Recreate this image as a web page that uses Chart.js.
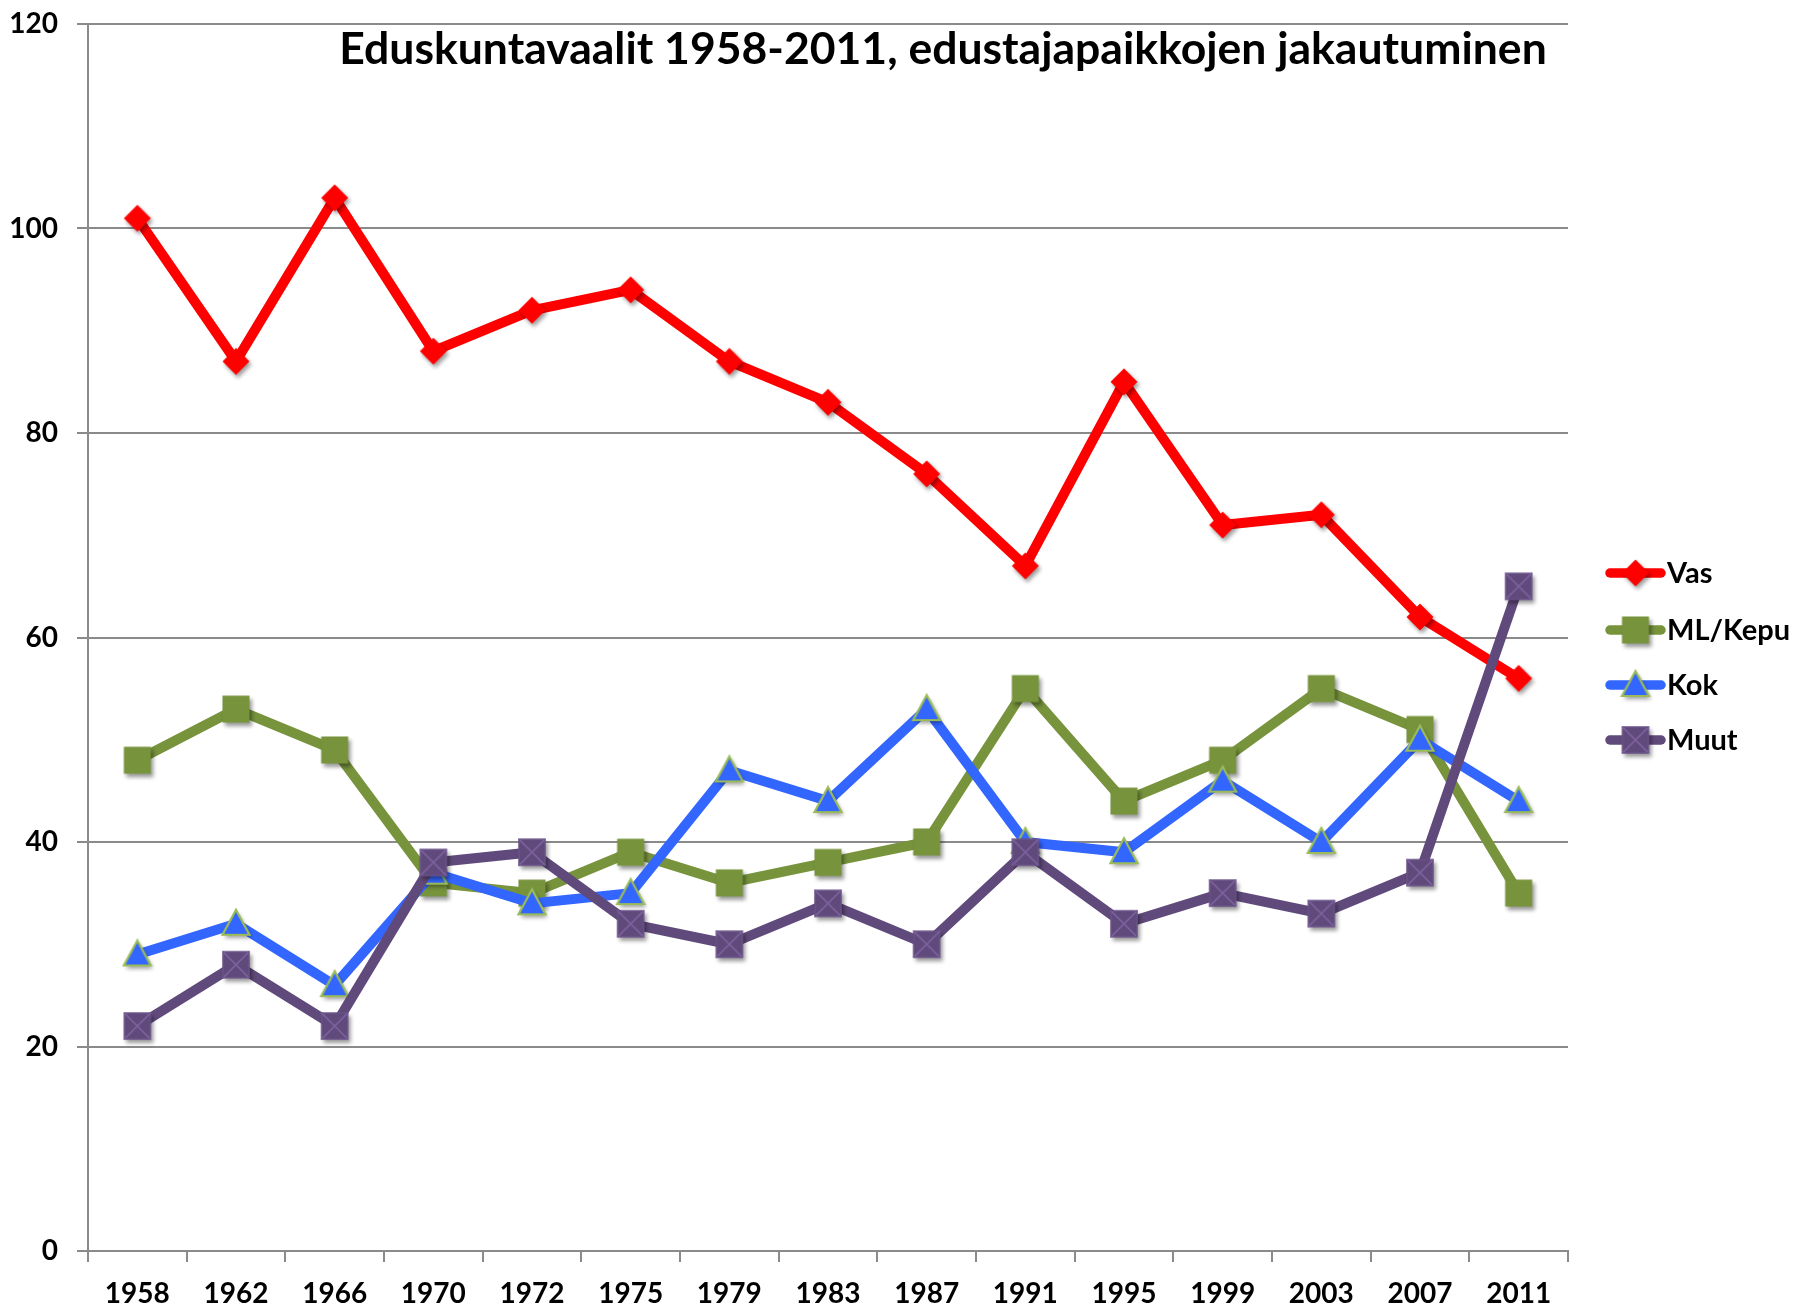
<!DOCTYPE html>
<html>
<head>
<meta charset="utf-8">
<script src="https://cdn.jsdelivr.net/npm/chart.js@4.4.1/dist/chart.umd.min.js"></script>
<style>
  html, body { margin: 0; padding: 0; background: #ffffff; }
  #wrap { position: relative; width: 1812px; height: 1312px; }
  canvas { display: block; }
</style>
</head>
<body>
<div id="wrap"><canvas id="c" width="1812" height="1312"></canvas></div>
<script>
// ---- Data ----
const years = ['1958','1962','1966','1970','1972','1975','1979','1983','1987','1991','1995','1999','2003','2007','2011'];
const vas    = [101, 87, 103, 88, 92, 94, 87, 83, 76, 67, 85, 71, 72, 62, 56];
const mlKepu = [48, 53, 49, 36, 35, 39, 36, 38, 40, 55, 44, 48, 55, 51, 35];
const kok    = [29, 32, 26, 37, 34, 35, 47, 44, 53, 40, 39, 46, 40, 50, 44];
const muut   = [22, 28, 22, 38, 39, 32, 30, 34, 30, 39, 32, 35, 33, 37, 65];
const seriesNames = ['Vas', 'ML/Kepu', 'Kok', 'Muut'];
const yTicks = [0, 20, 40, 60, 80, 100, 120];
const titleText = 'Eduskuntavaalit 1958-2011, edustajapaikkojen jakautuminen';

const FONT = "Lato, 'Open Sans', sans-serif";
const COLORS = { vas: '#FF0000', ml: '#77933C', kok: '#3366FF', muut: '#604A7B' };

function makeMarker(kind) {
  const S = 48, c = document.createElement('canvas');
  c.width = S; c.height = S;
  const g = c.getContext('2d');
  const cx = S / 2, cy = S / 2;
  g.save();
  g.shadowColor = 'rgba(0,0,0,0.40)';
  g.shadowBlur = 4; g.shadowOffsetX = 2; g.shadowOffsetY = 3;
  if (kind === 'diamond') {
    const r = 13.5;
    g.fillStyle = COLORS.vas;
    g.beginPath(); g.moveTo(cx, cy - r); g.lineTo(cx + r, cy); g.lineTo(cx, cy + r); g.lineTo(cx - r, cy); g.closePath(); g.fill();
  } else if (kind === 'square') {
    const h = 13.5;
    g.fillStyle = COLORS.ml;
    g.fillRect(cx - h, cy - h, 2 * h, 2 * h);
  } else if (kind === 'triangle') {
    const w = 13.5;
    g.fillStyle = COLORS.kok;
    g.strokeStyle = '#9BBB59'; g.lineWidth = 2.2; g.lineJoin = 'miter';
    g.beginPath(); g.moveTo(cx, cy - 14); g.lineTo(cx + w, cy + 11); g.lineTo(cx - w, cy + 11); g.closePath();
    g.fill(); g.shadowColor = 'transparent'; g.stroke();
  } else if (kind === 'xsquare') {
    const h = 13.5;
    g.fillStyle = COLORS.muut;
    g.fillRect(cx - h, cy - h, 2 * h, 2 * h);
    g.shadowColor = 'transparent';
    g.strokeStyle = '#8064A2'; g.lineWidth = 1.6;
    g.beginPath(); g.moveTo(cx - h, cy - h); g.lineTo(cx + h, cy + h);
    g.moveTo(cx + h, cy - h); g.lineTo(cx - h, cy + h); g.stroke();
    g.strokeStyle = '#6E5690'; g.lineWidth = 1;
    g.strokeRect(cx - h + 0.5, cy - h + 0.5, 2 * h - 1, 2 * h - 1);
  }
  g.restore();
  return c;
}

const markers = {
  vas: makeMarker('diamond'),
  ml: makeMarker('square'),
  kok: makeMarker('triangle'),
  muut: makeMarker('xsquare')
};

function ds(label, data, color, marker, order) {
  return {
    label, data,
    borderColor: color, backgroundColor: color,
    borderWidth: 10,
    borderJoinStyle: 'round', borderCapStyle: 'round',
    pointStyle: marker, pointRadius: 14, pointHoverRadius: 14,
    tension: 0, order
  };
}

const GRID = '#8A8A8A';

const overlayPlugin = {
  id: 'overlay',
  afterDraw(chart) {
    const ctx = chart.ctx;
    ctx.save();
    // Title
    ctx.fillStyle = '#000';
    ctx.font = 'bold 44.5px ' + FONT;
    ctx.textAlign = 'center';
    ctx.textBaseline = 'middle';
    ctx.fillText(titleText, 943, 50);
    // Legend
    const items = [
      { name: seriesNames[0], color: COLORS.vas, m: markers.vas, y: 573 },
      { name: seriesNames[1], color: COLORS.ml, m: markers.ml, y: 630 },
      { name: seriesNames[2], color: COLORS.kok, m: markers.kok, y: 685 },
      { name: seriesNames[3], color: COLORS.muut, m: markers.muut, y: 740 }
    ];
    items.forEach(it => {
      ctx.strokeStyle = it.color; ctx.lineWidth = 9.5; ctx.lineCap = 'round';
      ctx.beginPath(); ctx.moveTo(1610, it.y); ctx.lineTo(1661, it.y); ctx.stroke();
      ctx.drawImage(it.m, 1635.5 - it.m.width / 2, it.y - it.m.height / 2);
      ctx.fillStyle = '#000';
      ctx.font = 'bold 29px ' + FONT;
      ctx.textAlign = 'left';
      ctx.textBaseline = 'middle';
      ctx.fillText(it.name, 1667, it.y + 1);
    });
    ctx.restore();
  }
};

new Chart(document.getElementById('c'), {
  type: 'line',
  data: {
    labels: years,
    datasets: [
      ds(seriesNames[0], vas, COLORS.vas, markers.vas, 4),
      ds(seriesNames[1], mlKepu, COLORS.ml, markers.ml, 3),
      ds(seriesNames[2], kok, COLORS.kok, markers.kok, 2),
      ds(seriesNames[3], muut, COLORS.muut, markers.muut, 1)
    ]
  },
  options: {
    responsive: false,
    animation: false,
    events: [],
    layout: { padding: { top: 21, right: 244, left: 0, bottom: 0 } },
    plugins: { legend: { display: false }, title: { display: false }, tooltip: { enabled: false } },
    scales: {
      x: {
        type: 'category',
        offset: true,
        grid: { display: true, offset: true, drawOnChartArea: false, drawTicks: true, tickLength: 11, color: GRID, lineWidth: 2 },
        border: { display: true, color: GRID, width: 2 },
        ticks: { color: '#000', font: { family: FONT, size: 28, weight: 'bold' }, padding: 15, maxRotation: 0, autoSkip: false },
        afterFit(scale) { scale.height = 61; scale.paddingLeft = 0; scale.paddingRight = 0; }
      },
      y: {
        min: 0, max: 120,
        afterBuildTicks(scale) { scale.ticks = yTicks.map(v => ({ value: v })); },
        grid: { display: true, drawTicks: true, tickLength: 11, color: GRID, lineWidth: 2 },
        border: { display: true, color: GRID, width: 2 },
        ticks: { color: '#000', font: { family: FONT, size: 28, weight: 'bold' }, padding: 19 },
        afterFit(scale) { scale.width = 88; scale.paddingTop = 0; scale.paddingBottom = 0; }
      }
    }
  },
  plugins: [overlayPlugin]
});
</script>
</body>
</html>
